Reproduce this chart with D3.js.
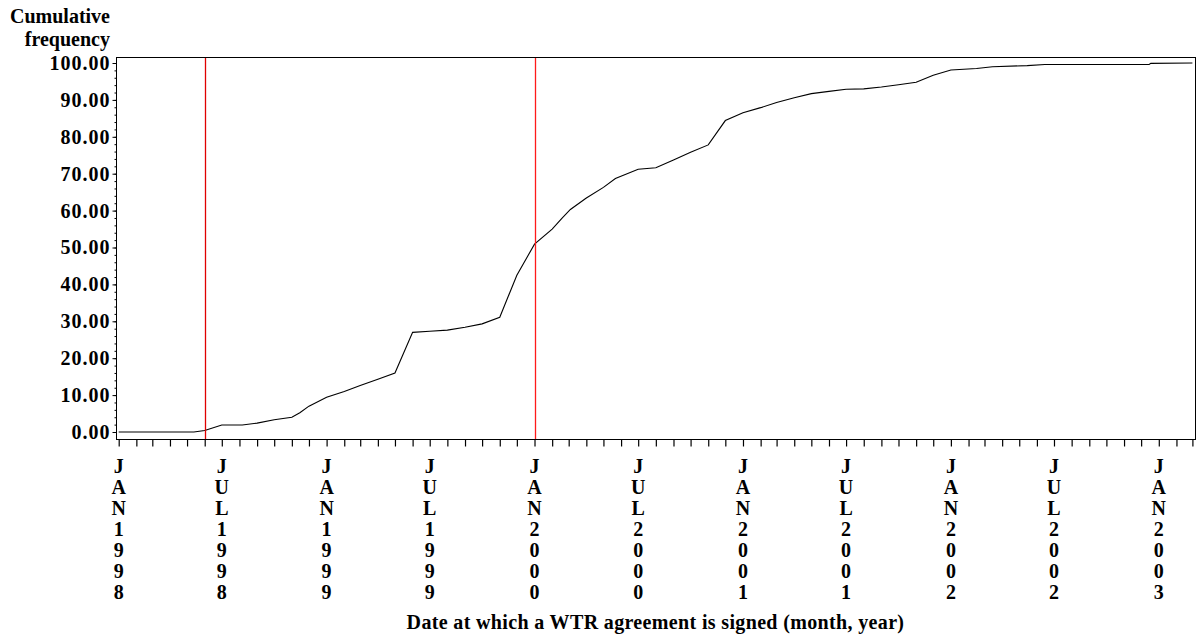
<!DOCTYPE html>
<html>
<head>
<meta charset="utf-8">
<script src="https://cdn.jsdelivr.net/npm/d3@7/dist/d3.min.js"></script>
<style>
  html, body { margin: 0; padding: 0; background: #fff; }
  svg text { font-family: "Liberation Serif", "Times New Roman", serif; font-weight: bold; fill: #000; }
</style>
</head>
<body>
<svg id="chart" width="1203" height="637"></svg>
<script>
// ---- data ----
const dates = [
  "1998-01-01","1998-05-13","1998-06-01","1998-07-01","1998-08-06","1998-09-01","1998-10-01",
  "1998-11-01","1998-11-15","1998-12-01","1999-01-01","1999-02-01","1999-03-01","1999-04-01",
  "1999-05-01","1999-06-01","1999-07-01","1999-08-01","1999-09-01","1999-10-01","1999-11-01",
  "1999-12-01","2000-01-01","2000-02-01","2000-02-18","2000-03-04","2000-04-01","2000-05-01",
  "2000-05-22","2000-07-01","2000-08-01","2000-09-01","2000-10-01","2000-11-01","2000-12-01",
  "2001-01-01","2001-02-01","2001-03-01","2001-04-01","2001-05-01","2001-06-01","2001-07-01",
  "2001-08-01","2001-09-01","2001-10-01","2001-11-01","2001-12-01","2002-01-01","2002-02-15",
  "2002-03-15","2002-05-15","2002-06-15","2002-12-15","2002-12-18","2003-03-01"
];
const cumFreq = [
  0, 0, 0.4, 1.9, 1.9, 2.4, 3.3,
  4.0, 5.2, 7.0, 9.4, 11.0, 12.6, 14.3,
  16.0, 27.0, 27.3, 27.6, 28.4, 29.3, 31.1,
  42.5, 50.9, 55.0, 57.9, 60.3, 63.4, 66.3,
  68.7, 71.2, 71.6, 73.7, 75.8, 77.8, 84.4,
  86.5, 87.9, 89.3, 90.6, 91.7, 92.3, 92.9,
  93.0, 93.5, 94.1, 94.8, 96.7, 98.1, 98.5,
  99.0, 99.3, 99.6, 99.6, 99.9, 100
];
const refLines = ["1998-06-01", "2000-01-01"];
const xLabelDates = ["1998-01-01","1998-07-01","1999-01-01","1999-07-01","2000-01-01","2000-07-01",
                     "2001-01-01","2001-07-01","2002-01-01","2002-07-01","2003-01-01"];
const xLabels = ["JAN1998","JUL1998","JAN1999","JUL1999","JAN2000","JUL2000",
                 "JAN2001","JUL2001","JAN2002","JUL2002","JAN2003"];
const yTicks = [0,10,20,30,40,50,60,70,80,90,100];
const yTitle = ["Cumulative", "frequency"];
const xTitle = "Date at which a WTR agreement is signed (month, year)";

// ---- layout ----
const parse = d3.utcParse("%Y-%m-%d");
const svg = d3.select("#chart");
const frame = { left: 116, right: 1195, top: 57, bottom: 439 };

const x = d3.scaleUtc()
  .domain([parse("1998-01-01"), parse("2003-03-01")])
  .range([118.7, 1192.4]);
const y = d3.scaleLinear().domain([0, 100]).range([432, 63]);

const data = dates.map((d, i) => ({ date: parse(d), value: cumFreq[i] }));

// frame
svg.append("rect")
  .attr("x", frame.left + 0.5).attr("y", frame.top + 0.5)
  .attr("width", frame.right - frame.left).attr("height", frame.bottom - frame.top)
  .style("fill", "none").style("stroke", "#000").style("stroke-width", 1);

// curve
svg.append("path").datum(data)
  .style("fill", "none").style("stroke", "#000").style("stroke-width", 1.1)
  .attr("d", d3.line().x(d => x(d.date)).y(d => y(d.value)));

// reference lines (drawn above the curve)
const refColors = ["#e00000", "#ff1a1a"];
refLines.forEach((d, i) => {
  const xp = Math.round(x(parse(d))) + 0.5;
  svg.append("line")
    .attr("x1", xp).attr("x2", xp)
    .attr("y1", frame.top + 1).attr("y2", frame.bottom)
    .style("stroke", refColors[i])
    .style("stroke-width", 1.3);
});

// x axis monthly ticks
const months = d3.utcMonth.range(parse("1998-01-01"), parse("2003-03-02"));
const xAxis = d3.axisBottom(x).tickValues(months).tickSize(7).tickFormat("");
const gx = svg.append("g").attr("transform", `translate(0,${frame.bottom + 0.5})`).call(xAxis);
gx.select(".domain").remove();
gx.selectAll(".tick line").style("stroke", "#000").style("stroke-width", 1.2);

// x labels: stacked characters
const gl = svg.append("g");
xLabelDates.forEach((d, i) => {
  const cx = x(parse(d));
  const chars = xLabels[i].split("");
  const t = gl.append("text").attr("text-anchor", "middle").style("font-size", "20px");
  chars.forEach((c, k) => {
    t.append("tspan").attr("x", cx).attr("y", 473 + k * 21).text(c);
  });
});

// y axis
const gyMinor = svg.append("g").attr("transform", `translate(${frame.left + 0.5},0)`)
  .call(d3.axisLeft(y).tickValues(d3.range(0, 101, 2)).tickSize(2).tickFormat(""));
gyMinor.select(".domain").remove();
gyMinor.selectAll(".tick line").style("stroke", "#000");

const gy = svg.append("g").attr("transform", `translate(${frame.left + 0.5},0)`)
  .call(d3.axisLeft(y).tickValues(yTicks).tickSize(4).tickPadding(3).tickFormat(d3.format(".2f")));
gy.select(".domain").remove();
gy.selectAll(".tick line").style("stroke", "#000");
gy.selectAll(".tick text").style("font-size", "20px").style("letter-spacing", "1px")
  .attr("dx", "1px").attr("font-family", null);

// y title
svg.append("text").attr("text-anchor", "end").style("font-size", "20px")
  .selectAll("tspan").data(yTitle).enter().append("tspan")
  .attr("x", 110).attr("y", (d, i) => 23 + i * 23).text(d => d);

// x title
svg.append("text").attr("text-anchor", "middle").style("font-size", "20px")
  .style("letter-spacing", "0.35px")
  .attr("x", (frame.left + frame.right) / 2).attr("y", 629).text(xTitle);
</script>
</body>
</html>
